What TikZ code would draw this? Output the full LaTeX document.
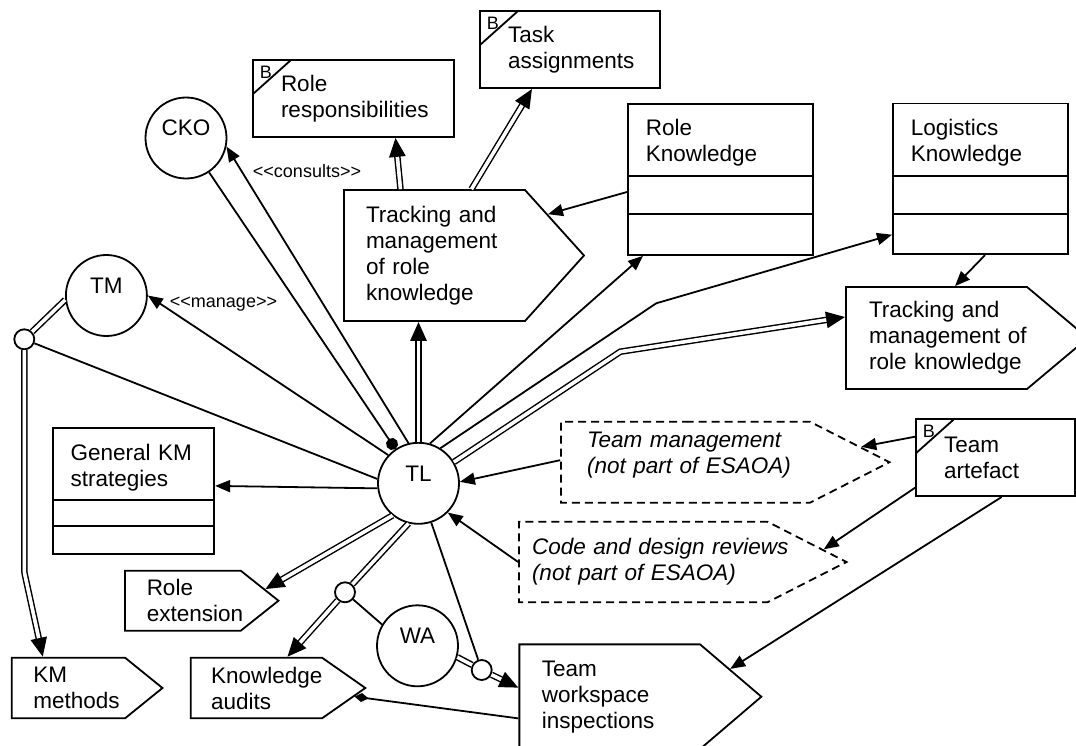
\documentclass[tikz,border=0pt]{standalone}
\usepackage{fontspec}
\setmainfont{Liberation Sans}
\usetikzlibrary{arrows.meta,shapes.symbols}
\hyphenpenalty=10000
\exhyphenpenalty=10000

\begin{document}
\begin{tikzpicture}[x=1pt,y=-1pt,line width=1.8pt,
  every node/.style={font=\fontsize{22.5}{26}\selectfont},
  role/.style={circle,draw,minimum size=81pt,inner sep=0,text height=16pt,text depth=20pt},
  joint/.style={circle,draw,fill=white,minimum size=20pt,inner sep=0},
  classbox/.style 2 args={draw,rectangle,anchor=north west,align=left,inner xsep=18pt,inner ysep=0pt,
    text height=16.4pt,
    path picture={
      \draw ([yshift=-#1]path picture bounding box.north west) -- ([yshift=-#1]path picture bounding box.north east);
      \draw ([yshift=-#2]path picture bounding box.north west) -- ([yshift=-#2]path picture bounding box.north east);}},
  bbox/.style={draw,rectangle,align=left,inner xsep=28pt,minimum height=77pt,
    path picture={
      \draw ([yshift=-34pt]path picture bounding box.north west) -- ([xshift=38pt]path picture bounding box.north west);
      \node[anchor=north west,inner sep=0,minimum height=0pt,text width={},font=\fontsize{18}{20}\selectfont]
        at ([xshift=6pt,yshift=-5pt]path picture bounding box.north west) {B};}},
  activity/.style={signal,signal to=east,draw,align=left,inner ysep=2pt},
  outside/.style={activity,dash pattern=on 8pt off 5pt,font=\fontsize{22.5}{26}\selectfont\itshape},
  stereo/.style={font=\fontsize{18}{20}\selectfont,inner sep=0},
  arr/.style={-{Triangle[length=15pt,width=12pt]}},
  dbl/.style={double,double distance=3.5pt,line width=1.5pt},
  dblarr/.style={dbl,shorten >=17pt,
    postaction={draw=white,line width=3pt,shorten >=0pt,-{Triangle[length=19pt,width=16pt,color=black]}}}]
\useasboundingbox (0,0) rectangle (1076,746);
\clip (0,0) rectangle (1076,746);

% roles
\node[role] (TL) at (418.5,483.3) {TL};
\node[role] (CKO) at (186,138) {CKO};
\node[role] (TM) at (106.4,295.5) {TM};
\node[role] (WA) at (417.5,645.8) {WA};
\node[joint] (jTM) at (24.3,339.3) {};
\node[joint] (jWA) at (345,592.3) {};
\node[joint] (jWS) at (481.7,670) {};

% knowledge classes
\node[classbox={72pt}{110pt},minimum width=185pt,minimum height=151pt,text width=149pt,text depth=103.4pt]
  (roleKnow) at (627,103) {Role\\Knowledge};
\node[classbox={72.3pt}{110.6pt},minimum width=175pt,minimum height=150.6pt,text width=139pt,text depth=103pt]
  (logKnow) at (892,102.7) {Logistics\\Knowledge};
\node[classbox={72pt}{97.7pt},minimum width=161.6pt,minimum height=125.4pt,text width=125.6pt,text depth=77.8pt]
  (genKM) at (51.7,427.3) {General KM\\strategies};

% business objects
\node[bbox,text width=145pt] (roleResp) at (353.5,98.5) {Role\\responsibilities};
\node[bbox,text width=124pt] (taskAssign) at (570,49.5) {Task\\assignments};
\node[bbox,text width=103pt] (teamArt) at (995.5,457.7) {Team\\artefact};

% activities
\node[activity,minimum height=131pt,text width=137pt,inner xsep=22pt,signal pointer angle=96] (trackRole)
  at (434.5,255.5) {Tracking and\\management\\of role\\knowledge};
\node[activity,minimum height=102pt,text width=135pt,inner xsep=23pt,signal pointer angle=80] (trackLog)
  at (936.5,338) {Tracking and\\management~of\\role~knowledge};
\node[activity,minimum height=60pt,text width=72.3pt,inner xsep=21.7pt,signal pointer angle=77] (roleExt)
  at (182.9,600.7) {Role\\extension};
\node[activity,minimum height=60.6pt,text width=70.1pt,inner xsep=21.6pt,signal pointer angle=78] (kmMeth)
  at (68.4,688) {KM\\methods};
\node[activity,minimum height=60.6pt,text width=90.7pt,inner xsep=20.3pt,signal pointer angle=70] (knowAud)
  at (256.4,688) {Knowledge\\audits};
\node[activity,minimum height=104.7pt,text width=135.9pt,inner xsep=22.4pt,signal pointer angle=81] (teamWS)
  at (609.7,696.7) {Team\\workspace\\inspections};
\node[outside,minimum height=81pt,text width=197pt,inner xsep=26pt,signal pointer angle=54,text depth=44.7pt] (teamMgmt)
  at (685.5,462.2) {Team~management\\(not~part~of~ESAOA)};
\node[outside,minimum height=80.6pt,text width=222.4pt,inner xsep=13pt,signal pointer angle=54] (codeRev)
  at (643.2,562) {Code~and~design~reviews\\(not~part~of~ESAOA)};

% stereotypes
\node[stereo] (consultsLbl) at (307,171) {<\kern0pt<consults>\kern0pt>};
\node[stereo] (manageLbl) at (223.5,304) {<\kern0pt<manage>\kern0pt>};

% bends
\coordinate (kmBend) at (24.5,573);
\coordinate (logBend) at (656.2,303.3);
\coordinate (trackBend) at (620.3,351.7);

% links of the team leader
\draw[-{Circle[length=12pt]}] (CKO) -- (TL);
\draw[arr] (TL.104) -- (CKO.-12);
\draw[arr] (TL.137) -- (TM.east);
\draw[dbl] (TM.186) -- (jTM);
\draw (jTM) -- (TL.174);
\draw[dblarr] (jTM.south) -- (kmBend) -- ([xshift=-25.6pt]kmMeth.north);
\draw[arr] (TL.187) -- ([yshift=5pt]genKM.east);
\draw[dblarr] (TL.231) -- (roleExt.8);
\draw[dbl] (TL.256) -- (jWA);
\draw[dblarr] (jWA) -- ([xshift=31pt]knowAud.north);
\draw (WA.149) -- (jWA);
\draw[dbl] (WA.-16) -- (jWS);
\draw[dblarr] (jWS) -- ([yshift=9pt]teamWS.west);
\draw (TL.288) -- (jWS);
\draw[-{Diamond[length=14pt,width=9pt]}] ([yshift=-21.7pt]teamWS.west) -- (knowAud.-5);

% team artefact and reviews
\draw[arr] ([yshift=2pt]teamMgmt.west) -- (TL.2);
\draw[arr] (codeRev.west) -- (TL.-45);
\draw[arr] ([yshift=21pt]teamArt.west) -- (teamMgmt.5);
\draw[arr] ([yshift=-30pt]teamArt.west) -- (codeRev.4);
\draw[arr] ([xshift=6pt]teamArt.south) -- (teamWS.13);

% role and logistics knowledge
\draw[arr] (TL.74) -- ([xshift=16pt]roleKnow.south west);
\draw[arr] (TL.58) -- (logBend) -- ([yshift=-132pt]logKnow.north west);
\draw[dblarr] (TL.31) -- (trackBend) -- ([yshift=21pt]trackLog.west);
\draw[dblarr] (TL.north) -- (TL.north |- trackRole.south);
\draw[dblarr] ([xshift=-34pt]trackRole.north) -- ([xshift=42pt]roleResp.south);
\draw[dblarr] ([xshift=37pt]trackRole.north) -- ([xshift=-38pt]taskAssign.south);
\draw[arr] ([yshift=-89pt]roleKnow.north west) -- (trackRole.20);
\draw[arr] ([xshift=93pt]logKnow.south west) -- ([xshift=18.5pt]trackLog.north);
\end{tikzpicture}
\end{document}
